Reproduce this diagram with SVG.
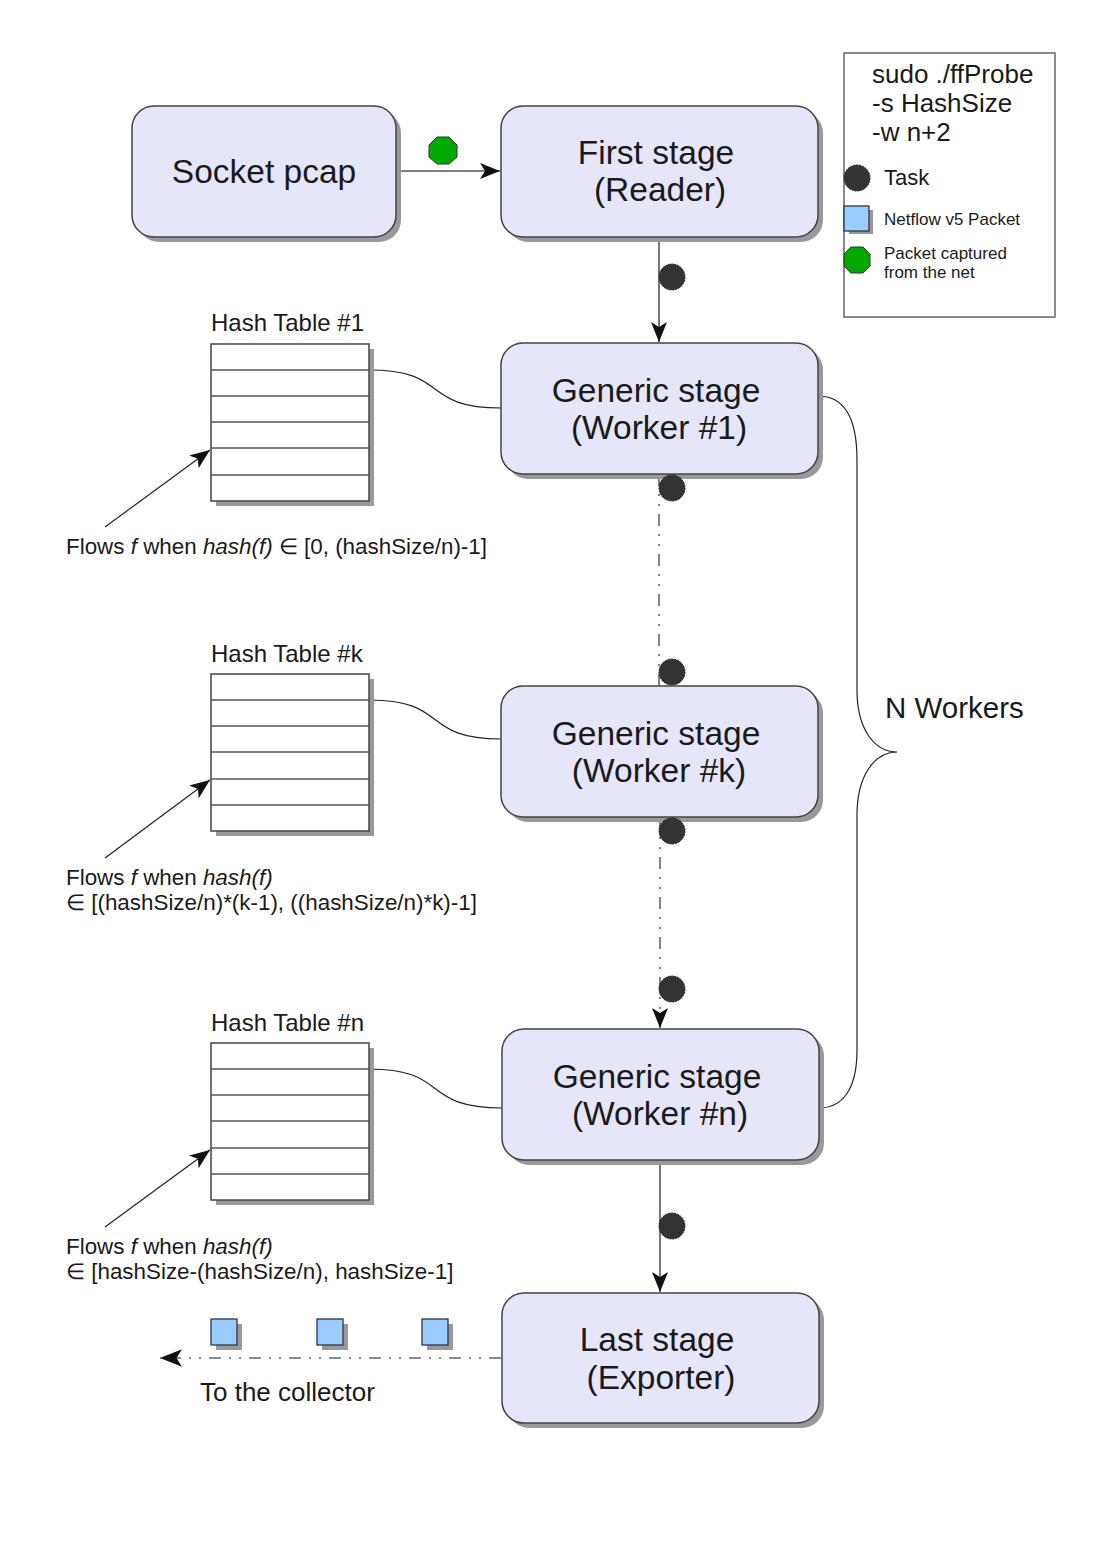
<svg xmlns="http://www.w3.org/2000/svg" width="1108" height="1567" viewBox="0 0 1108 1567">
<defs>
<marker id="arr" viewBox="0 0 20 20" refX="20" refY="10" markerWidth="20" markerHeight="20" markerUnits="userSpaceOnUse" orient="auto">
<path d="M0,2 L20,10 L0,18 L5,10 Z" fill="#111"/>
</marker>
<marker id="arr2" viewBox="0 0 20 20" refX="20" refY="10" markerWidth="22" markerHeight="22" markerUnits="userSpaceOnUse" orient="auto">
<path d="M0,2 L20,10 L0,18 L5,10 Z" fill="#111"/>
</marker>
</defs>
<style>
text{font-family:"Liberation Sans",Arial,sans-serif;fill:#1a1a1a}
.shadow{fill:#999}
.box{fill:#e6e6fa;stroke:#444;stroke-width:1.5}
.nt{font-size:33.5px;text-anchor:middle}
.conn{fill:none;stroke:#555;stroke-width:1.6}
.thin{fill:none;stroke:#222;stroke-width:1.2}
.dash{fill:none;stroke:#666;stroke-width:1.6;stroke-dasharray:12 8 2 8 2 8}
.task{fill:#333;stroke:#222;stroke-width:1;stroke-dasharray:2 1}
.tbl{fill:#fff;stroke:#444;stroke-width:1.5}
.row{stroke:#555;stroke-width:1.3}
.ht{font-size:24px}
.lbl{font-size:22.4px}
.pkt{fill:#99ccff;stroke:#334;stroke-width:1.3}
.oct{fill:#00aa00;stroke:#333;stroke-width:1}
</style>

<g id="connectors">
<line class="conn" x1="396" y1="171" x2="500" y2="171" marker-end="url(#arr)"/>
<line class="conn" x1="659" y1="237" x2="659" y2="342" marker-end="url(#arr)"/>
<line class="dash" x1="659" y1="474" x2="659" y2="686"/>
<line class="dash" x1="660" y1="817" x2="660" y2="1028" marker-end="url(#arr)"/>
<line class="conn" x1="660" y1="1160" x2="660" y2="1292" marker-end="url(#arr)"/>
<line class="dash" x1="501" y1="1358" x2="160" y2="1358" marker-end="url(#arr2)"/>
<path class="thin" d="M369,370 C450,370 420,408 501,408"/>
<path class="thin" d="M369,700 C450,700 420,739 501,739"/>
<path class="thin" d="M369,1069 C450,1069 420,1108 502,1108"/>
<line class="thin" x1="105" y1="527" x2="210" y2="450" marker-end="url(#arr)"/>
<line class="thin" x1="105" y1="858" x2="210" y2="780" marker-end="url(#arr)"/>
<line class="thin" x1="105" y1="1227" x2="210" y2="1150" marker-end="url(#arr)"/>
<path class="thin" d="M818,396 C845,396 857,420 857,460 L857,690 C857,730 875,752 897,752 C875,752 857,775 857,815 L857,1050 C857,1090 842,1108 819,1108"/>
</g>

<g id="socket">
<rect class="shadow" x="137" y="111" width="264" height="131" rx="22"/>
<rect class="box" x="132" y="106" width="264" height="131" rx="22"/>
<text class="nt" x="264" y="183">Socket pcap</text>
</g>
<g id="first">
<rect class="shadow" x="506" y="111" width="317" height="131" rx="22"/>
<rect class="box" x="501" y="106" width="317" height="131" rx="22"/>
<text class="nt" x="656" y="164">First stage</text>
<text class="nt" x="660" y="201">(Reader)</text>
</g>
<g id="worker1">
<rect class="shadow" x="506" y="348" width="317" height="131" rx="22"/>
<rect class="box" x="501" y="343" width="317" height="131" rx="22"/>
<text class="nt" x="656" y="402">Generic stage</text>
<text class="nt" x="659" y="439">(Worker #1)</text>
</g>
<g id="workerk">
<rect class="shadow" x="506" y="691" width="317" height="131" rx="22"/>
<rect class="box" x="501" y="686" width="317" height="131" rx="22"/>
<text class="nt" x="656" y="745">Generic stage</text>
<text class="nt" x="659" y="782">(Worker #k)</text>
</g>
<g id="workern">
<rect class="shadow" x="507" y="1034" width="317" height="131" rx="22"/>
<rect class="box" x="502" y="1029" width="317" height="131" rx="22"/>
<text class="nt" x="657" y="1088">Generic stage</text>
<text class="nt" x="660" y="1125">(Worker #n)</text>
</g>
<g id="last">
<rect class="shadow" x="507" y="1298" width="317" height="130" rx="22"/>
<rect class="box" x="502" y="1293" width="317" height="130" rx="22"/>
<text class="nt" x="657" y="1351">Last stage</text>
<text class="nt" x="661" y="1389">(Exporter)</text>
</g>

<g id="tasks">
<circle class="task" cx="672" cy="277" r="13"/>
<circle class="task" cx="672" cy="488" r="13"/>
<circle class="task" cx="672" cy="672" r="13"/>
<circle class="task" cx="672" cy="831" r="13"/>
<circle class="task" cx="672" cy="989" r="13"/>
<circle class="task" cx="672" cy="1226" r="13"/>
</g>
<g id="captured">
<polygon class="oct" points="437,137 449,137 457,145 457,157 449,164 437,164 429,157 429,145"/>
</g>

<g id="hash1">
<text class="ht" x="211" y="331">Hash Table #1</text>
<rect class="shadow" x="216" y="349" width="158" height="157"/>
<rect class="tbl" x="211" y="344" width="158" height="157"/>
<line class="row" x1="211" y1="370" x2="369" y2="370"/>
<line class="row" x1="211" y1="396" x2="369" y2="396"/>
<line class="row" x1="211" y1="422" x2="369" y2="422"/>
<line class="row" x1="211" y1="448" x2="369" y2="448"/>
<line class="row" x1="211" y1="475" x2="369" y2="475"/>
<text class="lbl" x="66" y="554">Flows <tspan font-style="italic">f</tspan> when <tspan font-style="italic">hash(f)</tspan> ∈ [0, (hashSize/n)-1]</text>
</g>
<g id="hashk">
<text class="ht" x="211" y="662">Hash Table #k</text>
<rect class="shadow" x="216" y="679" width="158" height="157"/>
<rect class="tbl" x="211" y="674" width="158" height="157"/>
<line class="row" x1="211" y1="700" x2="369" y2="700"/>
<line class="row" x1="211" y1="726" x2="369" y2="726"/>
<line class="row" x1="211" y1="752" x2="369" y2="752"/>
<line class="row" x1="211" y1="779" x2="369" y2="779"/>
<line class="row" x1="211" y1="805" x2="369" y2="805"/>
<text class="lbl" x="66" y="885">Flows <tspan font-style="italic">f</tspan> when <tspan font-style="italic">hash(f)</tspan></text>
<text class="lbl" x="66" y="910">∈ [(hashSize/n)*(k-1), ((hashSize/n)*k)-1]</text>
</g>
<g id="hashn">
<text class="ht" x="211" y="1031">Hash Table #n</text>
<rect class="shadow" x="216" y="1048" width="158" height="157"/>
<rect class="tbl" x="211" y="1043" width="158" height="157"/>
<line class="row" x1="211" y1="1069" x2="369" y2="1069"/>
<line class="row" x1="211" y1="1095" x2="369" y2="1095"/>
<line class="row" x1="211" y1="1121" x2="369" y2="1121"/>
<line class="row" x1="211" y1="1148" x2="369" y2="1148"/>
<line class="row" x1="211" y1="1174" x2="369" y2="1174"/>
<text class="lbl" x="66" y="1254">Flows <tspan font-style="italic">f</tspan> when <tspan font-style="italic">hash(f)</tspan></text>
<text class="lbl" x="66" y="1279">∈ [hashSize-(hashSize/n), hashSize-1]</text>
</g>

<g id="nworkers">
<text x="885" y="718" font-size="29.5">N Workers</text>
</g>

<g id="packets">
<rect class="shadow" x="216" y="1324" width="26" height="26"/>
<rect class="pkt" x="211" y="1319" width="26" height="26"/>
<rect class="shadow" x="322" y="1324" width="26" height="26"/>
<rect class="pkt" x="317" y="1319" width="26" height="26"/>
<rect class="shadow" x="427" y="1324" width="26" height="26"/>
<rect class="pkt" x="422" y="1319" width="26" height="26"/>
<text x="200" y="1401" font-size="26">To the collector</text>
</g>

<g id="legend">
<rect x="844" y="53" width="211" height="264" fill="#fff" stroke="#666" stroke-width="1.5"/>
<text x="872" y="83" font-size="26">sudo ./ffProbe</text>
<text x="872" y="112" font-size="26">-s HashSize</text>
<text x="872" y="141" font-size="26">-w n+2</text>
<circle class="task" cx="857" cy="178" r="13"/>
<text x="884" y="185" font-size="22">Task</text>
<rect class="shadow" x="849" y="210" width="24" height="24"/>
<rect class="pkt" x="844" y="206" width="25" height="25"/>
<text x="884" y="225" font-size="17">Netflow v5 Packet</text>
<polygon class="oct" points="851,247 863,247 870,254 870,266 863,273 851,273 844,266 844,254"/>
<text x="884" y="259" font-size="17">Packet captured</text>
<text x="884" y="278" font-size="17">from the net</text>
</g>
</svg>
